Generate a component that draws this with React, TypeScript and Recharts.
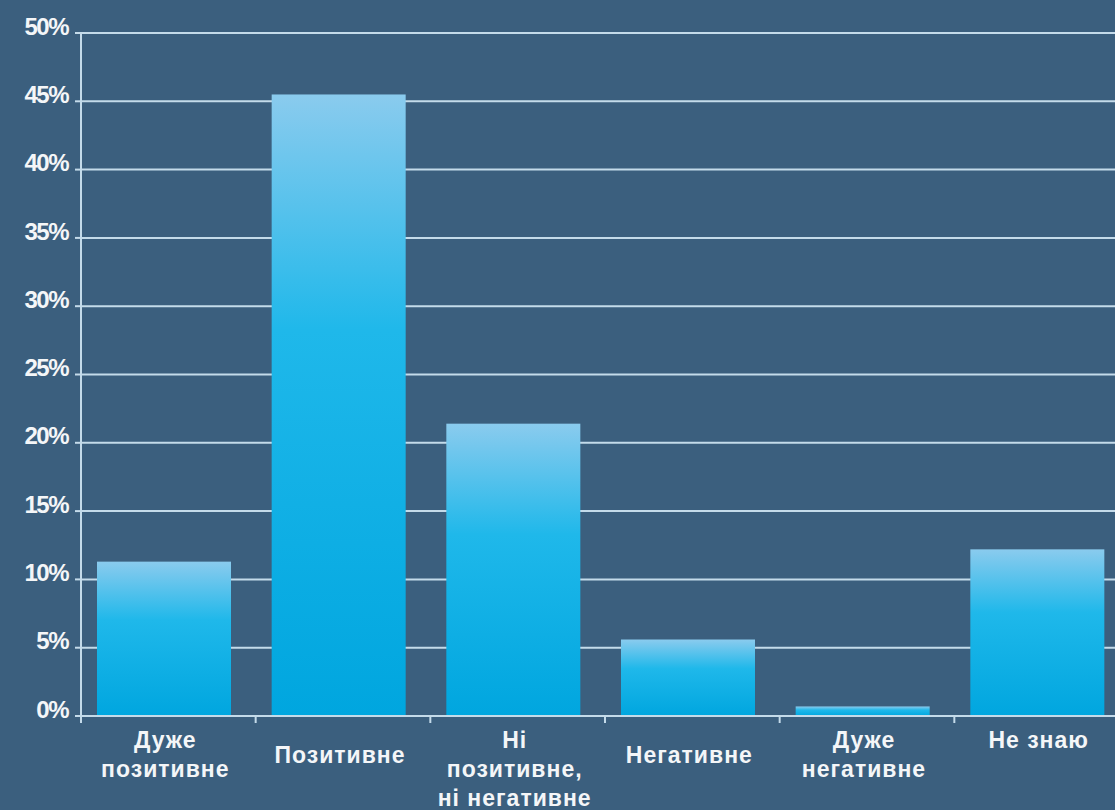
import React from 'react';
import { BarChart, Bar, XAxis, YAxis, CartesianGrid } from 'recharts';

const categories = ['Дуже позитивне', 'Позитивне', 'Ні позитивне, ні негативне', 'Негативне', 'Дуже негативне', 'Не знаю'];
const labelLines = [
  ['Дуже', 'позитивне'],
  ['Позитивне'],
  ['Ні', 'позитивне,', 'ні негативне'],
  ['Негативне'],
  ['Дуже', 'негативне'],
  ['Не знаю'],
];
const shares = [11.3, 45.5, 21.4, 5.6, 0.7, 12.2];
const yTicks = [0, 5, 10, 15, 20, 25, 30, 35, 40, 45, 50];

const data = categories.map((name, i) => ({ name, value: shares[i] }));

const BG = '#3b5f7e';
const LINE = '#c4dbea';
const TEXT = '#f4f6f8';
const FONT = '"Liberation Sans", Arial, sans-serif';
const AXIS_Y = 716;

// category label plus a small tick on the left edge of its band
const CategoryTick = (props: any) => {
  const { x, payload } = props;
  const i = categories.indexOf(payload.value);
  const lines = labelLines[i] || [payload.value];
  const top = lines.length === 1 && payload.value !== 'Не знаю' ? 755 : 740;
  const edge = x - (payload.offset || 0);
  return (
    <g>
      <line x1={edge} x2={edge} y1={AXIS_Y} y2={AXIS_Y + 7} stroke={LINE} strokeWidth={2} />
      {lines.map((l, k) => (
        <text
          key={k}
          x={x - 3}
          y={top + k * 29}
          dy="0.36em"
          textAnchor="middle"
          fill={TEXT}
          fontFamily={FONT}
          fontWeight="bold"
          fontSize={23}
          letterSpacing={1}
        >
          {l}
        </text>
      ))}
    </g>
  );
};

const PercentTick = (props: any) => {
  const { x, y, payload } = props;
  return (
    <text
      x={x}
      y={y - 7}
      dy="0.36em"
      textAnchor="end"
      fill={TEXT}
      fontFamily={FONT}
      fontWeight="bold"
      fontSize={24}
      letterSpacing={-1.5}
    >
      {`${payload.value}%`}
    </text>
  );
};

// bars sit a few px left of their band centre in the original
const ShiftedBar = (props: any) => {
  const { x, y, width, height, fill } = props;
  return <rect x={x - 4} y={y} width={width} height={height} fill={fill} />;
};

export default function App() {
  return (
    <div
      style={{
        position: 'absolute',
        left: 0,
        top: 0,
        width: 1115,
        height: 810,
        overflow: 'hidden',
        background: BG,
      }}
    >
      <BarChart
        width={1135}
        height={810}
        data={data}
        margin={{ top: 33, right: 6, bottom: 0, left: 0 }}
      >
        <defs>
          <linearGradient id="barFill" x1="0" y1="0" x2="0" y2="1">
            <stop offset="0%" stopColor="#8acbee" />
            <stop offset="38%" stopColor="#1fb8ea" />
            <stop offset="100%" stopColor="#00a6df" />
          </linearGradient>
        </defs>
        <CartesianGrid horizontal vertical={false} stroke={LINE} strokeWidth={2} />
        <XAxis
          dataKey="name"
          interval={0}
          tickLine={false}
          axisLine={{ stroke: LINE, strokeWidth: 2 }}
          tick={<CategoryTick />}
          height={94}
        />
        <YAxis
          domain={[0, 50]}
          ticks={yTicks}
          interval={0}
          width={81}
          axisLine={{ stroke: LINE, strokeWidth: 2 }}
          tickLine={{ stroke: LINE, strokeWidth: 2 }}
          tickSize={6}
          tickMargin={7}
          tick={<PercentTick />}
        />
        <Bar
          dataKey="value"
          fill="url(#barFill)"
          barSize={134}
          shape={<ShiftedBar />}
          isAnimationActive={false}
        />
      </BarChart>
    </div>
  );
}
